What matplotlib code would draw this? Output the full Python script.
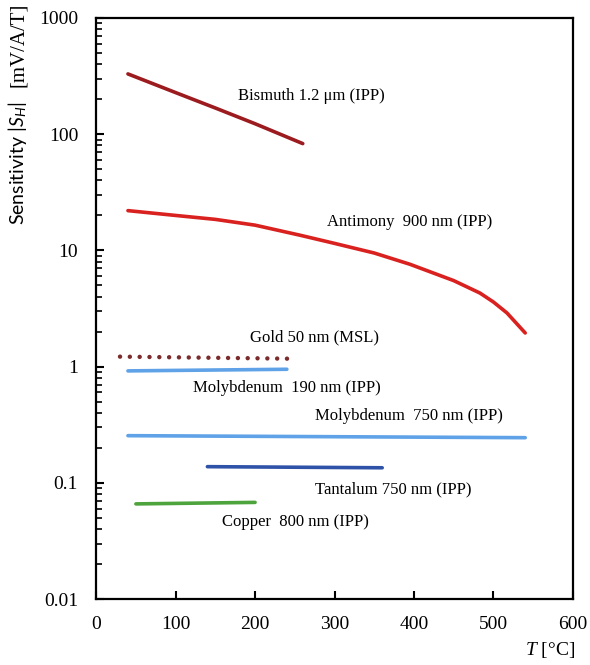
import numpy as np
import matplotlib.pyplot as plt
from matplotlib.ticker import LogLocator, NullFormatter, FixedLocator

plt.rcParams['font.family'] = ['Liberation Serif', 'DejaVu Serif']
plt.rcParams['mathtext.fontset'] = 'custom'
plt.rcParams['mathtext.it'] = 'Liberation Serif:italic'
plt.rcParams['mathtext.rm'] = 'Liberation Serif'
plt.rcParams['mathtext.sf'] = 'Lato:italic'

# data
bi_T = [40, 100, 150, 200, 260]
bi_S = [330, 228, 168, 123, 83]

sb_T = [40, 100, 150, 200, 257, 300, 350, 395, 450, 483, 500, 517, 540]
sb_S = [22, 20, 18.5, 16.5, 13.5, 11.5, 9.5, 7.6, 5.5, 4.3, 3.6, 2.9, 1.95]

au_T = [30, 250]
au_S = [1.22, 1.17]

mo190_T = [40, 240]
mo190_S = [0.92, 0.95]

mo750_T = [40, 540]
mo750_S = [0.255, 0.245]

ta_T = [140, 360]
ta_S = [0.138, 0.135]

cu_T = [50, 200]
cu_S = [0.066, 0.068]

labels = ['Bismuth 1.2 \u03bcm (IPP)', 'Antimony  900 nm (IPP)', 'Gold 50 nm (MSL)',
          'Molybdenum  190 nm (IPP)', 'Molybdenum  750 nm (IPP)',
          'Tantalum 750 nm (IPP)', 'Copper  800 nm (IPP)']
label_T = [178, 290, 194, 122, 275, 275, 158]
label_S = [215, 17.5, 1.8, 0.66, 0.38, 0.088, 0.046]

fig = plt.figure(figsize=(5.9, 6.65), dpi=100)
ax = fig.add_axes([0.163, 0.099, 0.808, 0.874])

ax.plot(bi_T, bi_S, color='#9b1b1f', lw=2.6, solid_capstyle='round')
ax.plot(sb_T, sb_S, color='#d9211f', lw=2.6, solid_capstyle='round')
ax.plot(au_T, au_S, color='#7b2b2b', lw=3.2, linestyle=(0, (0.01, 2.2)),
        dash_capstyle='round')
ax.plot(mo190_T, mo190_S, color='#5fa2e8', lw=2.6, solid_capstyle='round')
ax.plot(mo750_T, mo750_S, color='#5fa2e8', lw=2.6, solid_capstyle='round')
ax.plot(ta_T, ta_S, color='#2f52a9', lw=2.6, solid_capstyle='round')
ax.plot(cu_T, cu_S, color='#4ea43c', lw=2.6, solid_capstyle='round')

for t, x, y in zip(labels, label_T, label_S):
    ax.text(x, y, t, fontsize=12, va='center', ha='left')

ax.set_yscale('log')
ax.set_ylim(0.01, 1000)
ax.set_xlim(0, 600)
ax.xaxis.set_major_locator(FixedLocator([0, 100, 200, 300, 400, 500, 600]))
ax.yaxis.set_minor_locator(LogLocator(base=10, subs=np.arange(2, 10), numticks=20))
ax.yaxis.set_minor_formatter(NullFormatter())
ax.set_yticks([0.01, 0.1, 1, 10, 100, 1000])
ax.set_yticklabels(['0.01', '0.1', '1', '10', '100', '1000'])

ax.tick_params(axis='both', which='major', direction='in', length=6, width=1.5,
               labelsize=14)
ax.tick_params(axis='x', which='major', pad=12)
ax.tick_params(axis='y', which='major', pad=13)
ax.tick_params(axis='y', which='minor', direction='in', length=4, width=1.2)
for s in ax.spines.values():
    s.set_linewidth(1.6)

# y label: sans part and serif unit part
fig.text(18 / 590, 1 - 225 / 665, 'Sensitivity |$\\mathsf{S}_\\mathsf{H}$|',
         rotation=90, fontsize=14, ha='center', va='bottom',
         family=['Lato', 'DejaVu Sans'])
fig.text(18 / 590, 1 - 3 / 665, '[mV/A/T]', rotation=90, fontsize=15,
         ha='center', va='top')

ax.set_xlabel('$T$ [\u00b0C]', fontsize=14, ha='right')
ax.xaxis.set_label_coords(1.005, -0.07)

fig.savefig('out.png', dpi=100)
